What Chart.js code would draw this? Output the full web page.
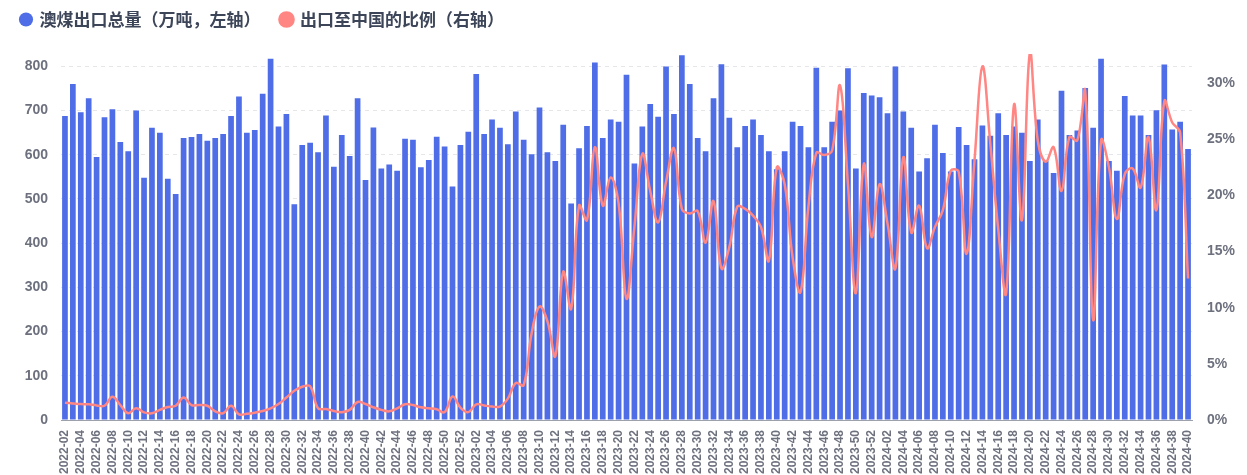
<!DOCTYPE html>
<html>
<head>
<meta charset="utf-8">
<title>澳煤出口</title>
<script src="https://cdn.jsdelivr.net/npm/chart.js@4"></script>
<style>
  html, body { margin: 0; padding: 0; background: #fff; }
  canvas { display: block; }
</style>
</head>
<body>
<canvas id="coalChart" width="1247" height="475"></canvas>
<script>
// 周度区间：[年份, 起始周, 结束周]
const weekRanges = [[2022, 2, 52], [2023, 1, 52], [2024, 1, 40]];

const weeks = [];
weekRanges.forEach(([year, from, to]) => {
    for (let w = from; w <= to; w++) {
        weeks.push(`${year}-${String(w).padStart(2, '0')}`);
    }
});

// 澳煤出口总量（万吨）
const exportVolume = [
    688, 760, 696, 728, 595, 685, 703, 629, 608, 700, 548, 661, 650, 546, 511, 638, 640, 647, 632, 638, 647, 688, 732, 650,
    656, 738, 817, 664, 692, 488, 622, 627, 606, 689, 573, 645, 597, 728, 543, 662, 569, 578, 564, 636, 634, 572, 588, 641,
    619, 528, 622, 652, 783, 647, 680, 661, 624, 698, 634, 601, 707, 606, 586, 668, 490, 615, 665, 809, 638, 680, 675, 781,
    580, 664, 715, 686, 800, 692, 825, 760, 638, 608, 728, 805, 684, 617, 665, 680, 645, 608, 567, 608, 675, 665, 617, 797,
    617, 675, 700, 796, 569, 740, 734, 730, 694, 800, 698, 661, 562, 592, 668, 604, 562, 663, 622, 590, 666, 643, 694, 645,
    664, 650, 586, 680, 586, 559, 745, 645, 655, 751, 661, 817, 586, 564, 733, 689, 689, 645, 701, 804, 657, 675, 613
];

// 出口至中国的比例（%）
const chinaShare = [
    1.54, 1.48, 1.42, 1.4, 1.3, 1.27, 2.07, 1.33, 0.6, 1.04, 0.68, 0.6, 0.9, 1.16, 1.27, 2.0, 1.33, 1.33, 1.27, 0.77, 0.6, 1.27, 0.5, 0.55,
    0.65, 0.8, 1.04, 1.42, 2.0, 2.6, 2.96, 3.0, 1.04, 0.98, 0.8, 0.7, 0.9, 1.6, 1.42, 1.13, 0.9, 0.77, 1.04, 1.4, 1.33, 1.13, 1.04, 0.95,
    0.7, 2.1, 1.1, 0.7, 1.4, 1.3, 1.2, 1.2, 1.9, 3.3, 3.1, 7.7, 10.1, 8.8, 5.7, 13.2, 9.9, 19.1, 17.8, 24.3, 19.1, 21.6, 19.3, 10.8,
    17.2, 23.7, 20.4, 17.6, 21.2, 24.2, 18.8, 18.4, 18.6, 15.8, 19.5, 13.5, 15.4, 19.0, 18.8, 18.2, 17.2, 14.2, 22.5, 21.0, 14.5, 11.4, 19.0, 23.8,
    23.6, 24.0, 29.8, 21.0, 11.3, 22.8, 16.3, 21.0, 17.5, 13.5, 23.4, 16.7, 19.1, 15.3, 17.2, 18.7, 22.2, 22.1, 14.8, 23.1, 31.5, 24.6, 17.0, 11.3,
    28.1, 17.8, 32.7, 24.9, 23.0, 24.3, 20.4, 25.2, 24.9, 29.3, 8.9, 24.9, 22.5, 17.9, 21.9, 22.4, 20.7, 25.2, 18.7, 28.4, 26.5, 25.6, 12.6
];

const BAR_COLOR = '#4e6de6';
const LINE_COLOR = '#ff8683';
const TICK_COLOR = '#6d717e';
const FONT = '"Liberation Sans", "Noto Sans CJK SC", sans-serif';

// 固定图例高度，让绘图区顶部对齐
const legendHeight = {
    id: 'legendHeight',
    beforeInit(chart) {
        const fit = chart.legend.fit;
        chart.legend.fit = function () {
            fit.bind(chart.legend)();
            this.height = 64;
        };
    }
};

new Chart(document.getElementById('coalChart'), {
    type: 'bar',
    data: {
        labels: weeks,
        datasets: [
            {
                type: 'line',
                label: '出口至中国的比例（右轴）',
                data: chinaShare,
                yAxisID: 'yRight',
                borderColor: LINE_COLOR,
                backgroundColor: LINE_COLOR,
                borderWidth: 2.5,
                pointRadius: 0,
                pointStyle: 'circle',
                tension: 0.4,
                order: 0,
            },
            {
                type: 'bar',
                label: '澳煤出口总量（万吨，左轴）',
                data: exportVolume,
                yAxisID: 'yLeft',
                backgroundColor: BAR_COLOR,
                barPercentage: 0.72,
                categoryPercentage: 1.0,
                pointStyle: 'circle',
                order: 1,
            },
        ]
    },
    options: {
        responsive: false,
        animation: false,
        layout: { padding: { left: 0, right: 0, top: -10, bottom: 0 } },
        plugins: {
            legend: {
                display: true,
                position: 'top',
                align: 'start',
                reverse: true,
                labels: {
                    usePointStyle: true,
                    boxHeight: 10,
                    boxWidth: 10,
                    padding: 21,
                    color: '#3d4659',
                    font: { family: '"Noto Sans CJK SC", sans-serif', size: 17, weight: 'bold' },
                },
            },
            tooltip: { enabled: false },
        },
        scales: {
            x: {
                grid: { display: false },
                border: { display: true, color: '#9ca1ab' },
                ticks: {
                    autoSkip: false,
                    maxRotation: 90,
                    minRotation: 90,
                    padding: 2,
                    color: TICK_COLOR,
                    font: { family: FONT, size: 12, weight: 'bold' },
                    callback: (val, idx) => (idx % 2 === 0 ? weeks[idx] : ''),
                },
                afterFit: (scale) => { scale.height = 55; },
            },
            yLeft: {
                position: 'left',
                min: 0,
                max: 828,
                grid: { color: '#e4e6ea', tickLength: 0 },
                border: { display: false, dash: [4, 4] },
                ticks: {
                    stepSize: 100,
                    includeBounds: false,
                    padding: 13,
                    color: TICK_COLOR,
                    font: { family: FONT, size: 14, weight: 'bold' },
                },
                afterFit: (scale) => { scale.width = 61; },
            },
            yRight: {
                position: 'right',
                min: 0,
                max: 32.6,
                grid: { drawOnChartArea: false, tickLength: 0 },
                border: { display: false },
                ticks: {
                    stepSize: 5,
                    includeBounds: false,
                    padding: 15,
                    color: TICK_COLOR,
                    font: { family: FONT, size: 14, weight: 'bold' },
                    callback: (v) => v + '%',
                },
                afterFit: (scale) => { scale.width = 55; },
            },
        },
    },
    plugins: [legendHeight],
});
</script>
</body>
</html>
